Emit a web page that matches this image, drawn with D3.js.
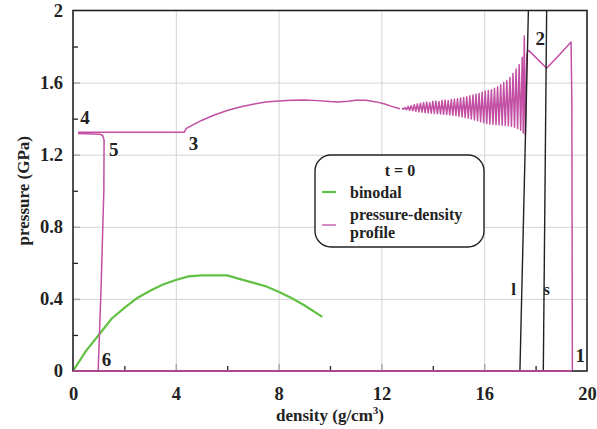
<!DOCTYPE html>
<html>
<head>
<meta charset="utf-8">
<script src="https://cdn.jsdelivr.net/npm/d3@7"></script>
<style>
  body { margin: 0; background: #fff; }
  text { font-family: "Liberation Serif", "Times New Roman", serif; font-weight: bold; fill: #222; }
</style>
</head>
<body>
<svg id="chart" width="597" height="429"></svg>
<script>
// tick values
var xMajor = [0, 4, 8, 12, 16, 20],
    xMinor = [2, 6, 10, 14, 18],
    yMajor = [0, 0.4, 0.8, 1.2, 1.6, 2],
    yMinor = [0.2, 0.6, 1.0, 1.4, 1.8];

// binodal [density, pressure]
var binodal = [
  [0, 0], [0.5, 0.11], [1, 0.2], [1.5, 0.29], [2, 0.35], [2.5, 0.405],
  [3, 0.445], [3.5, 0.48], [4, 0.505], [4.5, 0.525], [5, 0.53], [5.5, 0.53],
  [6, 0.53], [6.5, 0.51], [7, 0.49], [7.5, 0.47], [8, 0.44], [8.5, 0.405],
  [9, 0.365], [9.7, 0.3]
];

// pressure-density profile, branch 4 -> 3 -> 2 -> 1
var profileMain = [
  [0.2, 1.325], [4.33, 1.325], [4.4, 1.345], [4.7, 1.368], [5, 1.39], [5.5, 1.42],
  [6, 1.445], [6.5, 1.465], [7, 1.48], [7.5, 1.492], [8, 1.498], [8.5, 1.502],
  [9, 1.503], [9.5, 1.5], [10, 1.495], [10.3, 1.493], [10.7, 1.497], [11, 1.502],
  [11.4, 1.502], [11.8, 1.493], [12.1, 1.483], [12.4, 1.468], [12.72, 1.455]
];

// oscillating part
var profileOsc = [
  [12.80, 1.458], [12.86, 1.452], [12.92, 1.462], [12.98, 1.449], [13.04, 1.468], [13.10, 1.446],
  [13.16, 1.472], [13.22, 1.444], [13.28, 1.478], [13.34, 1.441], [13.40, 1.482], [13.46, 1.438],
  [13.52, 1.486], [13.58, 1.436], [13.64, 1.489], [13.70, 1.434], [13.76, 1.492], [13.82, 1.432],
  [13.88, 1.490], [13.94, 1.430], [14.00, 1.496], [14.06, 1.429], [14.12, 1.498], [14.18, 1.427],
  [14.24, 1.495], [14.30, 1.426], [14.36, 1.501], [14.42, 1.424], [14.48, 1.503], [14.54, 1.423],
  [14.60, 1.500], [14.66, 1.421], [14.72, 1.506], [14.78, 1.419], [14.84, 1.508], [14.90, 1.418],
  [14.96, 1.511], [15.02, 1.414], [15.08, 1.514], [15.14, 1.410], [15.20, 1.518], [15.26, 1.406],
  [15.32, 1.522], [15.38, 1.402], [15.44, 1.527], [15.50, 1.398], [15.56, 1.531], [15.62, 1.393],
  [15.68, 1.536], [15.74, 1.388], [15.80, 1.540], [15.86, 1.383], [15.92, 1.546], [15.98, 1.377],
  [16.04, 1.552], [16.10, 1.373], [16.16, 1.556], [16.22, 1.371], [16.28, 1.561], [16.34, 1.369],
  [16.40, 1.568], [16.46, 1.367], [16.52, 1.577], [16.58, 1.366], [16.64, 1.588], [16.70, 1.364],
  [16.76, 1.600], [16.82, 1.362], [16.88, 1.612], [16.94, 1.360], [17.00, 1.628], [17.06, 1.358],
  [17.12, 1.650], [17.18, 1.352], [17.24, 1.676], [17.30, 1.345], [17.36, 1.700], [17.42, 1.336],
  [17.48, 1.740], [17.52, 1.320], [17.56, 1.858], [17.60, 1.310], [17.66, 1.760], [17.72, 1.780]
];

var profileEnd = [
  [17.72, 1.780], [18.43, 1.68], [18.9, 1.75], [19.38, 1.825], [19.41, 1.5], [19.42, 0.8], [19.43, 0]
];

// branch 4 -> 5 -> 6
var profileLeft = [
  [0.2, 1.318], [1.05, 1.314], [1.16, 1.305], [1.21, 1.28], [1.2, 1.0], [1.1, 0.5], [0.98, 0]
];
var profileBottom = [[0, 0], [19.43, 0]];

// liquidus / solidus lines
var lineL = [[17.39, 0], [17.72, 2]],
    lineS = [[18.3, 0], [18.43, 2]];

var pointLabels = [
  {t: "1", x: 19.55, y: 0.05},
  {t: "2", x: 18.0, y: 1.81},
  {t: "3", x: 4.5, y: 1.225},
  {t: "4", x: 0.28, y: 1.37},
  {t: "5", x: 1.4, y: 1.195},
  {t: "6", x: 1.12, y: 0.025},
  {t: "l", x: 17.05, y: 0.42},
  {t: "s", x: 18.3, y: 0.42}
];

var svg = d3.select("#chart"),
    margin = {top: 10.5, right: 10, bottom: 58, left: 73},
    width = svg.attr("width") - margin.left - margin.right,
    height = svg.attr("height") - margin.top - margin.bottom,
    x = d3.scaleLinear().domain([0, 20]).range([0, width]),
    y = d3.scaleLinear().domain([0, 2]).range([height, 0]),
    g = svg.append("g").attr("transform", `translate(${margin.left},${margin.top})`);

svg.append("defs").append("clipPath").attr("id", "plot")
  .append("rect").attr("width", width).attr("height", height);

// grid
g.append("g")
  .attr("transform", `translate(0,${height})`)
  .call(d3.axisBottom(x).tickValues(xMajor.slice(1, -1)).tickSize(-height).tickFormat(""))
  .call(a => a.select(".domain").remove())
  .call(a => a.selectAll("line").attr("stroke", "#d4d4d4"));
g.append("g")
  .call(d3.axisLeft(y).tickValues(yMajor.slice(1, -1)).tickSize(-width).tickFormat(""))
  .call(a => a.select(".domain").remove())
  .call(a => a.selectAll("line").attr("stroke", "#d4d4d4"));

// major tick stubs
g.append("g")
  .attr("transform", `translate(0,${height})`)
  .call(d3.axisBottom(x).tickValues(xMajor.slice(1, -1)).tickSize(-7).tickFormat(""))
  .call(a => a.select(".domain").remove())
  .call(a => a.selectAll("line").attr("stroke", "#aaa").attr("stroke-width", 1.5));
g.append("g")
  .call(d3.axisLeft(y).tickValues(yMajor.slice(1, -1)).tickSize(-7).tickFormat(""))
  .call(a => a.select(".domain").remove())
  .call(a => a.selectAll("line").attr("stroke", "#aaa").attr("stroke-width", 1.5));

// minor ticks
g.append("g")
  .attr("transform", `translate(0,${height})`)
  .call(d3.axisBottom(x).tickValues(xMinor).tickSize(-5).tickFormat(""))
  .call(a => a.select(".domain").remove())
  .call(a => a.selectAll("line").attr("stroke", "#222").attr("stroke-width", 1.3));
g.append("g")
  .call(d3.axisLeft(y).tickValues(yMinor).tickSize(-5).tickFormat(""))
  .call(a => a.select(".domain").remove())
  .call(a => a.selectAll("line").attr("stroke", "#222").attr("stroke-width", 1.3));

// tick labels
g.append("g")
  .attr("transform", `translate(0,${height})`)
  .call(d3.axisBottom(x).tickValues(xMajor).tickSize(0).tickPadding(16).tickFormat(d3.format("d")))
  .call(a => a.select(".domain").remove())
  .call(a => a.selectAll("text").style("font-size", "18.5px").attr("fill", "#222"));
g.append("g")
  .call(d3.axisLeft(y).tickValues(yMajor).tickSize(0).tickPadding(10).tickFormat(d => d === 0 || d === 2 ? d : d.toFixed(1)))
  .call(a => a.select(".domain").remove())
  .call(a => a.selectAll("text").style("font-size", "18.5px").attr("fill", "#222"));

var line = d3.line().x(d => x(d[0])).y(d => y(d[1]));
var plot = g.append("g").attr("clip-path", "url(#plot)");

plot.append("path").datum(binodal)
  .attr("d", line).attr("fill", "none").attr("stroke", "#62c044").attr("stroke-width", 2.2);

var pink = "#c24fa3";
[profileBottom, profileLeft, profileMain, profileOsc, profileEnd].forEach(p => {
  plot.append("path").datum(p)
    .attr("d", line).attr("fill", "none").attr("stroke", pink)
    .attr("stroke-width", p === profileBottom ? 2 : 1.5)
    .attr("stroke-linejoin", "round");
});

[lineL, lineS].forEach(p => {
  plot.append("path").datum(p)
    .attr("d", line).attr("fill", "none").attr("stroke", "#222").attr("stroke-width", 1.4);
});

// frame
g.append("rect").attr("width", width).attr("height", height)
  .attr("fill", "none").attr("stroke", "#222").attr("stroke-width", 1.6);
g.append("path").datum(profileBottom)
  .attr("d", line).attr("fill", "none").attr("stroke", "#a8488f").attr("stroke-width", 1.8);

// point labels
g.selectAll(".plabel").data(pointLabels).enter().append("text")
  .attr("class", "plabel")
  .attr("x", d => x(d.x)).attr("y", d => y(d.y))
  .style("font-size", d => d.t === "l" || d.t === "s" ? "17px" : "19px")
  .text(d => d.t);

// axis titles
svg.append("text")
  .attr("x", margin.left + width / 2).attr("y", 421)
  .attr("text-anchor", "middle").style("font-size", "17px")
  .html("density (g/cm<tspan dy='-7' style='font-size:11px'>3</tspan><tspan dy='7'>)</tspan>");
svg.append("text")
  .attr("transform", `translate(29,${margin.top + height / 2}) rotate(-90)`)
  .attr("text-anchor", "middle").style("font-size", "17px")
  .text("pressure (GPa)");

// legend
var leg = svg.append("g").attr("transform", "translate(315,155)");
leg.append("rect").attr("width", 169).attr("height", 92).attr("rx", 16)
  .attr("fill", "#fff").attr("stroke", "#222").attr("stroke-width", 1.4);
leg.append("text").attr("x", 85).attr("y", 21).attr("text-anchor", "middle")
  .style("font-size", "16px").text("t = 0");
leg.append("line").attr("x1", 7).attr("x2", 21).attr("y1", 37).attr("y2", 37)
  .attr("stroke", "#62c044").attr("stroke-width", 2.2);
leg.append("text").attr("x", 35).attr("y", 43).style("font-size", "16px").text("binodal");
leg.append("line").attr("x1", 7).attr("x2", 21).attr("y1", 70).attr("y2", 70)
  .attr("stroke", "#d58cc6").attr("stroke-width", 2);
leg.append("text").attr("x", 35).attr("y", 65).style("font-size", "16px").text("pressure-density");
leg.append("text").attr("x", 35).attr("y", 83).style("font-size", "16px").text("profile");
</script>
</body>
</html>
